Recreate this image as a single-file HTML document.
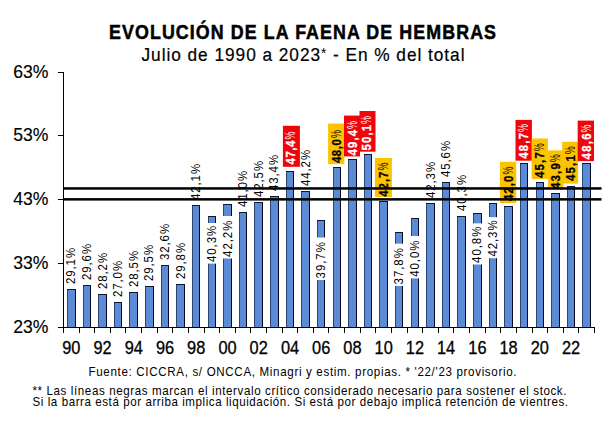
<!DOCTYPE html>
<html><head><meta charset="utf-8"><title>Evolución de la faena de hembras</title>
<style>html,body{margin:0;padding:0;background:#fff;width:611px;height:427px;overflow:hidden}svg{display:block}</style>
</head><body>
<svg width="611" height="427" viewBox="0 0 611 427">
<style>
text{font-family:"Liberation Sans",Arial,sans-serif;}
.t{font-weight:bold;font-size:19.4px;stroke:#000;stroke-width:0.5px}
.st{font-size:18.6px;stroke:#000;stroke-width:0.2px}
.yl{font-size:17.6px;stroke:#000;stroke-width:0.15px}
.xl{font-size:17.6px;stroke:#000;stroke-width:0.3px}
.lb{font-size:13px}
.lbb{font-weight:bold;font-size:13.2px}
.fn{font-size:12.6px}
</style>
<rect width="611" height="427" fill="#fff"/>
<text transform="translate(109,39) scale(0.92,1)" class="t" textLength="420.65" lengthAdjust="spacing">EVOLUCIÓN DE LA FAENA DE HEMBRAS</text>
<text transform="translate(141.5,60.9) scale(0.93,1)" class="st" textLength="347.31" lengthAdjust="spacing">Julio de 1990 a 2023<tspan dy="-2.8" style="font-size:14.5px;stroke-width:0">*</tspan><tspan dy="2.8"> - En % del total</tspan></text>
<rect x="67" y="289" width="9" height="38" fill="#5a8bd4"/>
<rect x="67" y="289" width="1" height="38" fill="#2a4670"/>
<rect x="75" y="289" width="1" height="38" fill="#050b22"/>
<rect x="67" y="289" width="9" height="1" fill="#0d1630"/>
<rect x="83" y="285" width="8" height="42" fill="#5a8bd4"/>
<rect x="83" y="285" width="1" height="42" fill="#2a4670"/>
<rect x="90" y="285" width="1" height="42" fill="#050b22"/>
<rect x="83" y="285" width="8" height="1" fill="#0d1630"/>
<rect x="98" y="294" width="9" height="33" fill="#5a8bd4"/>
<rect x="98" y="294" width="1" height="33" fill="#2a4670"/>
<rect x="106" y="294" width="1" height="33" fill="#050b22"/>
<rect x="98" y="294" width="9" height="1" fill="#0d1630"/>
<rect x="114" y="302" width="8" height="25" fill="#5a8bd4"/>
<rect x="114" y="302" width="1" height="25" fill="#2a4670"/>
<rect x="121" y="302" width="1" height="25" fill="#050b22"/>
<rect x="114" y="302" width="8" height="1" fill="#0d1630"/>
<rect x="129" y="292" width="9" height="35" fill="#5a8bd4"/>
<rect x="129" y="292" width="1" height="35" fill="#2a4670"/>
<rect x="137" y="292" width="1" height="35" fill="#050b22"/>
<rect x="129" y="292" width="9" height="1" fill="#0d1630"/>
<rect x="145" y="286" width="9" height="41" fill="#5a8bd4"/>
<rect x="145" y="286" width="1" height="41" fill="#2a4670"/>
<rect x="153" y="286" width="1" height="41" fill="#050b22"/>
<rect x="145" y="286" width="9" height="1" fill="#0d1630"/>
<rect x="161" y="265" width="8" height="62" fill="#5a8bd4"/>
<rect x="161" y="265" width="1" height="62" fill="#2a4670"/>
<rect x="168" y="265" width="1" height="62" fill="#050b22"/>
<rect x="161" y="265" width="8" height="1" fill="#0d1630"/>
<rect x="176" y="284" width="9" height="43" fill="#5a8bd4"/>
<rect x="176" y="284" width="1" height="43" fill="#2a4670"/>
<rect x="184" y="284" width="1" height="43" fill="#050b22"/>
<rect x="176" y="284" width="9" height="1" fill="#0d1630"/>
<rect x="192" y="205" width="8" height="122" fill="#5a8bd4"/>
<rect x="192" y="205" width="1" height="122" fill="#2a4670"/>
<rect x="199" y="205" width="1" height="122" fill="#050b22"/>
<rect x="192" y="205" width="8" height="1" fill="#0d1630"/>
<rect x="208" y="216" width="8" height="111" fill="#5a8bd4"/>
<rect x="208" y="216" width="1" height="111" fill="#2a4670"/>
<rect x="215" y="216" width="1" height="111" fill="#050b22"/>
<rect x="208" y="216" width="8" height="1" fill="#0d1630"/>
<rect x="223" y="204" width="9" height="123" fill="#5a8bd4"/>
<rect x="223" y="204" width="1" height="123" fill="#2a4670"/>
<rect x="231" y="204" width="1" height="123" fill="#050b22"/>
<rect x="223" y="204" width="9" height="1" fill="#0d1630"/>
<rect x="239" y="212" width="8" height="115" fill="#5a8bd4"/>
<rect x="239" y="212" width="1" height="115" fill="#2a4670"/>
<rect x="246" y="212" width="1" height="115" fill="#050b22"/>
<rect x="239" y="212" width="8" height="1" fill="#0d1630"/>
<rect x="254" y="202" width="9" height="125" fill="#5a8bd4"/>
<rect x="254" y="202" width="1" height="125" fill="#2a4670"/>
<rect x="262" y="202" width="1" height="125" fill="#050b22"/>
<rect x="254" y="202" width="9" height="1" fill="#0d1630"/>
<rect x="270" y="196" width="9" height="131" fill="#5a8bd4"/>
<rect x="270" y="196" width="1" height="131" fill="#2a4670"/>
<rect x="278" y="196" width="1" height="131" fill="#050b22"/>
<rect x="270" y="196" width="9" height="1" fill="#0d1630"/>
<rect x="286" y="171" width="8" height="156" fill="#5a8bd4"/>
<rect x="286" y="171" width="1" height="156" fill="#2a4670"/>
<rect x="293" y="171" width="1" height="156" fill="#050b22"/>
<rect x="286" y="171" width="8" height="1" fill="#0d1630"/>
<rect x="301" y="191" width="9" height="136" fill="#5a8bd4"/>
<rect x="301" y="191" width="1" height="136" fill="#2a4670"/>
<rect x="309" y="191" width="1" height="136" fill="#050b22"/>
<rect x="301" y="191" width="9" height="1" fill="#0d1630"/>
<rect x="317" y="220" width="8" height="107" fill="#5a8bd4"/>
<rect x="317" y="220" width="1" height="107" fill="#2a4670"/>
<rect x="324" y="220" width="1" height="107" fill="#050b22"/>
<rect x="317" y="220" width="8" height="1" fill="#0d1630"/>
<rect x="333" y="167" width="8" height="160" fill="#5a8bd4"/>
<rect x="333" y="167" width="1" height="160" fill="#2a4670"/>
<rect x="340" y="167" width="1" height="160" fill="#050b22"/>
<rect x="333" y="167" width="8" height="1" fill="#0d1630"/>
<rect x="348" y="159" width="9" height="168" fill="#5a8bd4"/>
<rect x="348" y="159" width="1" height="168" fill="#2a4670"/>
<rect x="356" y="159" width="1" height="168" fill="#050b22"/>
<rect x="348" y="159" width="9" height="1" fill="#0d1630"/>
<rect x="364" y="154" width="8" height="173" fill="#5a8bd4"/>
<rect x="364" y="154" width="1" height="173" fill="#2a4670"/>
<rect x="371" y="154" width="1" height="173" fill="#050b22"/>
<rect x="364" y="154" width="8" height="1" fill="#0d1630"/>
<rect x="379" y="201" width="9" height="126" fill="#5a8bd4"/>
<rect x="379" y="201" width="1" height="126" fill="#2a4670"/>
<rect x="387" y="201" width="1" height="126" fill="#050b22"/>
<rect x="379" y="201" width="9" height="1" fill="#0d1630"/>
<rect x="395" y="232" width="8" height="95" fill="#5a8bd4"/>
<rect x="395" y="232" width="1" height="95" fill="#2a4670"/>
<rect x="402" y="232" width="1" height="95" fill="#050b22"/>
<rect x="395" y="232" width="8" height="1" fill="#0d1630"/>
<rect x="411" y="218" width="8" height="109" fill="#5a8bd4"/>
<rect x="411" y="218" width="1" height="109" fill="#2a4670"/>
<rect x="418" y="218" width="1" height="109" fill="#050b22"/>
<rect x="411" y="218" width="8" height="1" fill="#0d1630"/>
<rect x="426" y="203" width="9" height="124" fill="#5a8bd4"/>
<rect x="426" y="203" width="1" height="124" fill="#2a4670"/>
<rect x="434" y="203" width="1" height="124" fill="#050b22"/>
<rect x="426" y="203" width="9" height="1" fill="#0d1630"/>
<rect x="442" y="182" width="8" height="145" fill="#5a8bd4"/>
<rect x="442" y="182" width="1" height="145" fill="#2a4670"/>
<rect x="449" y="182" width="1" height="145" fill="#050b22"/>
<rect x="442" y="182" width="8" height="1" fill="#0d1630"/>
<rect x="457" y="216" width="9" height="111" fill="#5a8bd4"/>
<rect x="457" y="216" width="1" height="111" fill="#2a4670"/>
<rect x="465" y="216" width="1" height="111" fill="#050b22"/>
<rect x="457" y="216" width="9" height="1" fill="#0d1630"/>
<rect x="473" y="213" width="9" height="114" fill="#5a8bd4"/>
<rect x="473" y="213" width="1" height="114" fill="#2a4670"/>
<rect x="481" y="213" width="1" height="114" fill="#050b22"/>
<rect x="473" y="213" width="9" height="1" fill="#0d1630"/>
<rect x="489" y="203" width="8" height="124" fill="#5a8bd4"/>
<rect x="489" y="203" width="1" height="124" fill="#2a4670"/>
<rect x="496" y="203" width="1" height="124" fill="#050b22"/>
<rect x="489" y="203" width="8" height="1" fill="#0d1630"/>
<rect x="504" y="206" width="9" height="121" fill="#5a8bd4"/>
<rect x="504" y="206" width="1" height="121" fill="#2a4670"/>
<rect x="512" y="206" width="1" height="121" fill="#050b22"/>
<rect x="504" y="206" width="9" height="1" fill="#0d1630"/>
<rect x="520" y="163" width="8" height="164" fill="#5a8bd4"/>
<rect x="520" y="163" width="1" height="164" fill="#2a4670"/>
<rect x="527" y="163" width="1" height="164" fill="#050b22"/>
<rect x="520" y="163" width="8" height="1" fill="#0d1630"/>
<rect x="536" y="182" width="8" height="145" fill="#5a8bd4"/>
<rect x="536" y="182" width="1" height="145" fill="#2a4670"/>
<rect x="543" y="182" width="1" height="145" fill="#050b22"/>
<rect x="536" y="182" width="8" height="1" fill="#0d1630"/>
<rect x="551" y="193" width="9" height="134" fill="#5a8bd4"/>
<rect x="551" y="193" width="1" height="134" fill="#2a4670"/>
<rect x="559" y="193" width="1" height="134" fill="#050b22"/>
<rect x="551" y="193" width="9" height="1" fill="#0d1630"/>
<rect x="567" y="186" width="8" height="141" fill="#5a8bd4"/>
<rect x="567" y="186" width="1" height="141" fill="#2a4670"/>
<rect x="574" y="186" width="1" height="141" fill="#050b22"/>
<rect x="567" y="186" width="8" height="1" fill="#0d1630"/>
<rect x="582" y="163" width="9" height="164" fill="#5a8bd4"/>
<rect x="582" y="163" width="1" height="164" fill="#2a4670"/>
<rect x="590" y="163" width="1" height="164" fill="#050b22"/>
<rect x="582" y="163" width="9" height="1" fill="#0d1630"/>
<text transform="translate(75.3,284.1) rotate(-90) scale(0.88,1)" class="lb" textLength="41.14" lengthAdjust="spacing">29,1%</text>
<text transform="translate(90.9,280.1) rotate(-90) scale(0.88,1)" class="lb" textLength="41.14" lengthAdjust="spacing">29,6%</text>
<text transform="translate(106.5,289.1) rotate(-90) scale(0.88,1)" class="lb" textLength="41.14" lengthAdjust="spacing">28,2%</text>
<text transform="translate(122.2,297.1) rotate(-90) scale(0.88,1)" class="lb" textLength="41.14" lengthAdjust="spacing">27,0%</text>
<text transform="translate(137.8,287.1) rotate(-90) scale(0.88,1)" class="lb" textLength="41.14" lengthAdjust="spacing">28,5%</text>
<text transform="translate(153.4,281.1) rotate(-90) scale(0.88,1)" class="lb" textLength="41.14" lengthAdjust="spacing">29,5%</text>
<text transform="translate(169.0,260.1) rotate(-90) scale(0.88,1)" class="lb" textLength="41.14" lengthAdjust="spacing">32,6%</text>
<text transform="translate(184.6,279.1) rotate(-90) scale(0.88,1)" class="lb" textLength="41.14" lengthAdjust="spacing">29,8%</text>
<text transform="translate(200.2,200.1) rotate(-90) scale(0.88,1)" class="lb" textLength="41.14" lengthAdjust="spacing">42,1%</text>
<rect x="204.9" y="223" width="13" height="40.6" fill="#fff"/>
<text transform="translate(215.9,262.0) rotate(-90) scale(0.88,1)" class="lb" textLength="41.14" lengthAdjust="spacing">40,3%</text>
<rect x="220.5" y="216" width="13" height="42.5" fill="#fff"/>
<text transform="translate(231.5,256.9) rotate(-90) scale(0.88,1)" class="lb" textLength="41.14" lengthAdjust="spacing">42,2%</text>
<text transform="translate(247.1,207.1) rotate(-90) scale(0.88,1)" class="lb" textLength="41.14" lengthAdjust="spacing">41,0%</text>
<text transform="translate(262.7,197.1) rotate(-90) scale(0.88,1)" class="lb" textLength="41.14" lengthAdjust="spacing">42,5%</text>
<text transform="translate(278.3,191.1) rotate(-90) scale(0.88,1)" class="lb" textLength="41.14" lengthAdjust="spacing">43,4%</text>
<rect x="282.9" y="125.8" width="17.0" height="41.0" fill="#f0050c"/>
<text transform="translate(295.0,164.4) rotate(-90) scale(0.86,1)" class="lbb" fill="#fff" stroke="#fff" stroke-width="0.3" textLength="27.67" lengthAdjust="spacing">47,4</text>
<text transform="translate(295.0,139.6) rotate(-90) scale(0.62,1)" class="lbb" fill="#fff" stroke="none" style="font-weight:normal;font-size:14.5px">%</text>
<text transform="translate(309.6,186.1) rotate(-90) scale(0.88,1)" class="lb" textLength="41.14" lengthAdjust="spacing">44,2%</text>
<rect x="314.2" y="237.5" width="13" height="42.5" fill="#fff"/>
<text transform="translate(325.2,278.4) rotate(-90) scale(0.88,1)" class="lb" textLength="41.14" lengthAdjust="spacing">39,7%</text>
<rect x="328.1" y="123.6" width="16.2" height="40.5" fill="#fcc300"/>
<text transform="translate(340.5,163.1) rotate(-90) scale(0.86,1)" class="lbb" fill="#000" stroke="#000" stroke-width="0.3" textLength="27.91" lengthAdjust="spacing">48,0</text>
<text transform="translate(340.5,138.1) rotate(-90) scale(0.62,1)" class="lbb" fill="#000" stroke="none" style="font-weight:normal;font-size:14.5px">%</text>
<rect x="344.0" y="115.6" width="16.0" height="40.8" fill="#f0050c"/>
<text transform="translate(356.7,155.4) rotate(-90) scale(0.86,1)" class="lbb" fill="#fff" stroke="#fff" stroke-width="0.3" textLength="29.65" lengthAdjust="spacing">49,4</text>
<text transform="translate(356.7,128.9) rotate(-90) scale(0.62,1)" class="lbb" fill="#fff" stroke="none" style="font-weight:normal;font-size:14.5px">%</text>
<rect x="359.5" y="111.0" width="16.0" height="40.7" fill="#f0050c"/>
<text transform="translate(371.4,150.5) rotate(-90) scale(0.86,1)" class="lbb" fill="#fff" stroke="#fff" stroke-width="0.3" textLength="29.65" lengthAdjust="spacing">50,1</text>
<text transform="translate(371.4,124.0) rotate(-90) scale(0.62,1)" class="lbb" fill="#fff" stroke="none" style="font-weight:normal;font-size:14.5px">%</text>
<rect x="374.9" y="158.0" width="17.0" height="39.0" fill="#fcc300"/>
<text transform="translate(387.8,196.7) rotate(-90) scale(0.86,1)" class="lbb" fill="#000" stroke="#000" stroke-width="0.3" textLength="29.19" lengthAdjust="spacing">42,7</text>
<text transform="translate(387.8,170.6) rotate(-90) scale(0.62,1)" class="lbb" fill="#000" stroke="none" style="font-weight:normal;font-size:14.5px">%</text>
<rect x="392.3" y="243.7" width="13" height="42.3" fill="#fff"/>
<text transform="translate(403.3,284.4) rotate(-90) scale(0.88,1)" class="lb" textLength="41.14" lengthAdjust="spacing">37,8%</text>
<rect x="407.9" y="236" width="13" height="42.4" fill="#fff"/>
<text transform="translate(418.9,276.8) rotate(-90) scale(0.88,1)" class="lb" textLength="41.14" lengthAdjust="spacing">40,0%</text>
<text transform="translate(434.5,198.1) rotate(-90) scale(0.88,1)" class="lb" textLength="41.14" lengthAdjust="spacing">42,3%</text>
<text transform="translate(450.1,177.1) rotate(-90) scale(0.88,1)" class="lb" textLength="41.14" lengthAdjust="spacing">45,6%</text>
<text transform="translate(465.8,211.1) rotate(-90) scale(0.88,1)" class="lb" textLength="41.14" lengthAdjust="spacing">40,3%</text>
<rect x="470.4" y="223.4" width="13" height="41.1" fill="#fff"/>
<text transform="translate(481.4,262.9) rotate(-90) scale(0.88,1)" class="lb" textLength="41.14" lengthAdjust="spacing">40,8%</text>
<rect x="486.0" y="217.1" width="13" height="41.1" fill="#fff"/>
<text transform="translate(497.0,256.6) rotate(-90) scale(0.88,1)" class="lb" textLength="41.14" lengthAdjust="spacing">42,3%</text>
<rect x="499.9" y="161.8" width="16.3" height="41.2" fill="#fcc300"/>
<text transform="translate(512.8,201.1) rotate(-90) scale(0.86,1)" class="lbb" fill="#000" stroke="#000" stroke-width="0.3" textLength="29.65" lengthAdjust="spacing">42,0</text>
<text transform="translate(512.8,174.6) rotate(-90) scale(0.62,1)" class="lbb" fill="#000" stroke="none" style="font-weight:normal;font-size:14.5px">%</text>
<rect x="515.5" y="119.9" width="16.4" height="40.8" fill="#f0050c"/>
<text transform="translate(528.4,158.8) rotate(-90) scale(0.86,1)" class="lbb" fill="#fff" stroke="#fff" stroke-width="0.3" textLength="30.12" lengthAdjust="spacing">48,7</text>
<text transform="translate(528.4,131.9) rotate(-90) scale(0.62,1)" class="lbb" fill="#fff" stroke="none" style="font-weight:normal;font-size:14.5px">%</text>
<rect x="531.6" y="138.5" width="16.3" height="40.5" fill="#fcc300"/>
<text transform="translate(543.5,178.0) rotate(-90) scale(0.86,1)" class="lbb" fill="#000" stroke="#000" stroke-width="0.3" textLength="30.00" lengthAdjust="spacing">45,7</text>
<text transform="translate(543.5,151.2) rotate(-90) scale(0.62,1)" class="lbb" fill="#000" stroke="none" style="font-weight:normal;font-size:14.5px">%</text>
<rect x="547.9" y="150.4" width="15.5" height="39.2" fill="#fcc300"/>
<text transform="translate(559.8,189.0) rotate(-90) scale(0.86,1)" class="lbb" fill="#000" stroke="#000" stroke-width="0.3" textLength="30.00" lengthAdjust="spacing">43,9</text>
<text transform="translate(559.8,162.2) rotate(-90) scale(0.62,1)" class="lbb" fill="#000" stroke="none" style="font-weight:normal;font-size:14.5px">%</text>
<rect x="562.2" y="141.8" width="15.9" height="41.8" fill="#fcc300"/>
<text transform="translate(575.3,181.0) rotate(-90) scale(0.86,1)" class="lbb" fill="#000" stroke="#000" stroke-width="0.3" textLength="30.00" lengthAdjust="spacing">45,1</text>
<text transform="translate(575.3,154.2) rotate(-90) scale(0.62,1)" class="lbb" fill="#000" stroke="none" style="font-weight:normal;font-size:14.5px">%</text>
<rect x="577.7" y="120.6" width="16.3" height="40.5" fill="#f0050c"/>
<text transform="translate(590.6,159.5) rotate(-90) scale(0.86,1)" class="lbb" fill="#fff" stroke="#fff" stroke-width="0.3" textLength="30.35" lengthAdjust="spacing">48,6</text>
<text transform="translate(590.6,132.4) rotate(-90) scale(0.62,1)" class="lbb" fill="#fff" stroke="none" style="font-weight:normal;font-size:14.5px">%</text>
<rect x="63" y="187.2" width="538.5" height="2.5" fill="#000"/>
<rect x="63" y="198.1" width="538.5" height="2.5" fill="#000"/>
<line x1="63.5" y1="72" x2="63.5" y2="333" stroke="#000"/>
<line x1="58" y1="72.5" x2="64" y2="72.5" stroke="#000"/>
<text x="48.5" y="77.6" class="yl" text-anchor="end">63%</text>
<line x1="58" y1="135.5" x2="64" y2="135.5" stroke="#000"/>
<text x="48.5" y="141.3" class="yl" text-anchor="end">53%</text>
<line x1="58" y1="199.5" x2="64" y2="199.5" stroke="#000"/>
<text x="48.5" y="205.1" class="yl" text-anchor="end">43%</text>
<line x1="58" y1="263.5" x2="64" y2="263.5" stroke="#000"/>
<text x="48.5" y="268.9" class="yl" text-anchor="end">33%</text>
<line x1="58" y1="327.5" x2="64" y2="327.5" stroke="#000"/>
<text x="48.5" y="332.6" class="yl" text-anchor="end">23%</text>
<line x1="63" y1="327.5" x2="595" y2="327.5" stroke="#000"/>
<line x1="63.5" y1="327" x2="63.5" y2="333" stroke="#000"/>
<line x1="79.5" y1="327" x2="79.5" y2="333" stroke="#000"/>
<line x1="94.5" y1="327" x2="94.5" y2="333" stroke="#000"/>
<line x1="110.5" y1="327" x2="110.5" y2="333" stroke="#000"/>
<line x1="125.5" y1="327" x2="125.5" y2="333" stroke="#000"/>
<line x1="141.5" y1="327" x2="141.5" y2="333" stroke="#000"/>
<line x1="157.5" y1="327" x2="157.5" y2="333" stroke="#000"/>
<line x1="172.5" y1="327" x2="172.5" y2="333" stroke="#000"/>
<line x1="188.5" y1="327" x2="188.5" y2="333" stroke="#000"/>
<line x1="204.5" y1="327" x2="204.5" y2="333" stroke="#000"/>
<line x1="219.5" y1="327" x2="219.5" y2="333" stroke="#000"/>
<line x1="235.5" y1="327" x2="235.5" y2="333" stroke="#000"/>
<line x1="250.5" y1="327" x2="250.5" y2="333" stroke="#000"/>
<line x1="266.5" y1="327" x2="266.5" y2="333" stroke="#000"/>
<line x1="282.5" y1="327" x2="282.5" y2="333" stroke="#000"/>
<line x1="297.5" y1="327" x2="297.5" y2="333" stroke="#000"/>
<line x1="313.5" y1="327" x2="313.5" y2="333" stroke="#000"/>
<line x1="328.5" y1="327" x2="328.5" y2="333" stroke="#000"/>
<line x1="344.5" y1="327" x2="344.5" y2="333" stroke="#000"/>
<line x1="360.5" y1="327" x2="360.5" y2="333" stroke="#000"/>
<line x1="375.5" y1="327" x2="375.5" y2="333" stroke="#000"/>
<line x1="391.5" y1="327" x2="391.5" y2="333" stroke="#000"/>
<line x1="407.5" y1="327" x2="407.5" y2="333" stroke="#000"/>
<line x1="422.5" y1="327" x2="422.5" y2="333" stroke="#000"/>
<line x1="438.5" y1="327" x2="438.5" y2="333" stroke="#000"/>
<line x1="453.5" y1="327" x2="453.5" y2="333" stroke="#000"/>
<line x1="469.5" y1="327" x2="469.5" y2="333" stroke="#000"/>
<line x1="485.5" y1="327" x2="485.5" y2="333" stroke="#000"/>
<line x1="500.5" y1="327" x2="500.5" y2="333" stroke="#000"/>
<line x1="516.5" y1="327" x2="516.5" y2="333" stroke="#000"/>
<line x1="532.5" y1="327" x2="532.5" y2="333" stroke="#000"/>
<line x1="547.5" y1="327" x2="547.5" y2="333" stroke="#000"/>
<line x1="563.5" y1="327" x2="563.5" y2="333" stroke="#000"/>
<line x1="578.5" y1="327" x2="578.5" y2="333" stroke="#000"/>
<line x1="594.5" y1="327" x2="594.5" y2="333" stroke="#000"/>
<text transform="translate(71.3,354) scale(0.93,1)" class="xl" text-anchor="middle">90</text>
<text transform="translate(102.5,354) scale(0.93,1)" class="xl" text-anchor="middle">92</text>
<text transform="translate(133.8,354) scale(0.93,1)" class="xl" text-anchor="middle">94</text>
<text transform="translate(165.0,354) scale(0.93,1)" class="xl" text-anchor="middle">96</text>
<text transform="translate(196.2,354) scale(0.93,1)" class="xl" text-anchor="middle">98</text>
<text transform="translate(227.5,354) scale(0.93,1)" class="xl" text-anchor="middle">00</text>
<text transform="translate(258.7,354) scale(0.93,1)" class="xl" text-anchor="middle">02</text>
<text transform="translate(290.0,354) scale(0.93,1)" class="xl" text-anchor="middle">04</text>
<text transform="translate(321.2,354) scale(0.93,1)" class="xl" text-anchor="middle">06</text>
<text transform="translate(352.4,354) scale(0.93,1)" class="xl" text-anchor="middle">08</text>
<text transform="translate(383.7,354) scale(0.93,1)" class="xl" text-anchor="middle">10</text>
<text transform="translate(414.9,354) scale(0.93,1)" class="xl" text-anchor="middle">12</text>
<text transform="translate(446.1,354) scale(0.93,1)" class="xl" text-anchor="middle">14</text>
<text transform="translate(477.4,354) scale(0.93,1)" class="xl" text-anchor="middle">16</text>
<text transform="translate(508.6,354) scale(0.93,1)" class="xl" text-anchor="middle">18</text>
<text transform="translate(539.8,354) scale(0.93,1)" class="xl" text-anchor="middle">20</text>
<text transform="translate(571.1,354) scale(0.93,1)" class="xl" text-anchor="middle">22</text>
<text transform="translate(88.5,375.7) scale(0.92,1)" class="fn" textLength="465.22" lengthAdjust="spacing">Fuente: CICCRA, s/ ONCCA, Minagri y estim. propias. * &#39;22/&#39;23  provisorio.</text>
<text transform="translate(32.5,394.6) scale(0.92,1)" class="fn" textLength="580.43" lengthAdjust="spacing">** Las líneas negras marcan el intervalo crítico considerado necesario para sostener el stock.</text>
<text transform="translate(32.5,406.4) scale(0.92,1)" class="fn" textLength="582.07" lengthAdjust="spacing">Si la barra está por arriba implica liquidación. Si está por debajo implica retención de vientres.</text>
</svg>
</body></html>
